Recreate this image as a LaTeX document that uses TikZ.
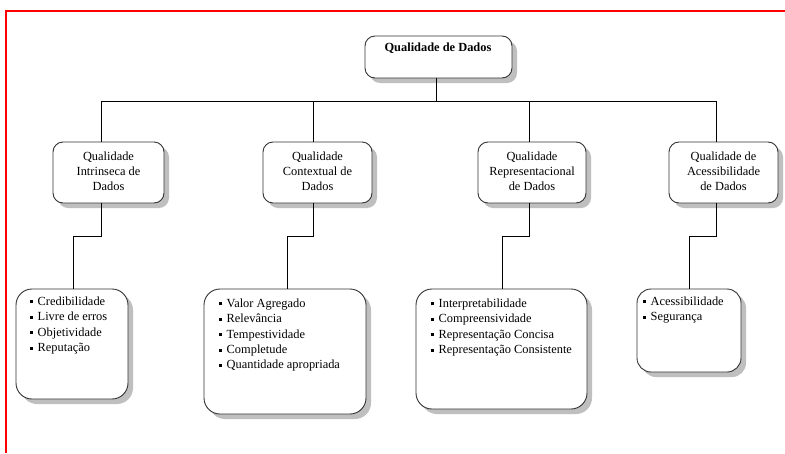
\documentclass[tikz,border=0pt]{standalone}
\usepackage{fontspec}
\setmainfont{Liberation Serif}
\usetikzlibrary{shadows}
\newcommand\sqbul{\raisebox{2pt}{\rule{3pt}{3pt}}\hspace{4.5pt}}
\tikzset{
  box/.style={draw=black!80, line width=0.9pt, fill=white, rounded corners=#1,
    drop shadow={shadow xshift=5pt, shadow yshift=-5pt, fill=black!25, opacity=1},
    inner sep=0pt, outer sep=0pt},
  box/.default=10pt,
  conn/.style={draw=black, line width=0.8pt},
  ttl/.style={font=\fontsize{12.4}{15.2}\selectfont, align=center, inner sep=0pt},
  lst/.style={font=\fontsize{12.4}{15.4}\selectfont, align=left, inner sep=0pt, anchor=north west},
}
\begin{document}
\begin{tikzpicture}[x=1pt,y=-1pt]
\useasboundingbox (0,0) rectangle (785,453);
\fill[white] (0,0) rectangle (785,453);
% red frame
\draw[red, line width=2pt] (5.5,453) -- (5.5,10.5) -- (785,10.5);

% root
\node[box, minimum width=147pt, minimum height=42pt] (root) at (438.5,57) {};
\node[ttl, font=\fontsize{12.4}{15}\selectfont\bfseries] (roott) at (438,48) {Qualidade de Dados};

% level 1
\node[box, minimum width=111pt, minimum height=61pt] (l1) at (108.5,172.5) {};
\node[box, minimum width=109pt, minimum height=61pt] (l2) at (317.5,172.5) {};
\node[box, minimum width=108pt, minimum height=61pt] (l3) at (532,172.5) {};
\node[box, minimum width=109pt, minimum height=61pt] (l4) at (723.5,172.5) {};
\node[ttl] (l1t) at (108.5,171) {Qualidade\\Intrinseca de\\Dados};
\node[ttl] (l2t) at (317.5,171) {Qualidade\\Contextual de\\Dados};
\node[ttl] (l3t) at (532,171) {Qualidade\\Representacional\\de Dados};
\node[ttl] (l4t) at (723.5,171) {Qualidade de\\Acessibilidade\\de Dados};

% level 2
\node[box=16pt, minimum width=112pt, minimum height=110pt] (b1) at (72,344) {};
\node[box=16pt, minimum width=162pt, minimum height=125pt] (b2) at (285,351.5) {};
\node[box=16pt, minimum width=171pt, minimum height=120pt] (b3) at (501.5,349) {};
\node[box=14pt, minimum width=104pt, minimum height=83pt] (b4) at (689,330.5) {};

\node[lst] (b1t) at (30,296.5) {\sqbul Credibilidade\\\sqbul Livre de erros\\\sqbul Objetividade\\\sqbul Reputação};
\node[lst] (b2t) at (219,298.5) {\sqbul Valor Agregado\\\sqbul Relevância\\\sqbul Tempestividade\\\sqbul Completude\\\sqbul Quantidade apropriada};
\node[lst] (b3t) at (431,298.5) {\sqbul Interpretabilidade\\\sqbul Compreensividade\\\sqbul Representação Concisa\\\sqbul Representação Consistente};
\node[lst] (b4t) at (643,296.5) {\sqbul Acessibilidade\\\sqbul Segurança};

% bus coordinates
\coordinate (r0) at (436,101);
\coordinate (c1) at (101,101);
\coordinate (c2) at (313,101);
\coordinate (c3) at (529,101);
\coordinate (c4) at (716,101);
\coordinate (d1) at (101,236);
\coordinate (d2) at (313,236);
\coordinate (d3) at (529,236);
\coordinate (d4) at (716,236);
\coordinate (e1) at (73,236);
\coordinate (e2) at (287,236);
\coordinate (e3) at (502,236);
\coordinate (e4) at (689,236);

\draw[conn] (root.south -| r0) -- (r0);
\draw[conn] (c1) -- (c4);
\draw[conn] (c1) -- (l1.north -| c1);
\draw[conn] (c2) -- (l2.north -| c2);
\draw[conn] (c3) -- (l3.north -| c3);
\draw[conn] (c4) -- (l4.north -| c4);
\draw[conn] (l1.south -| d1) -- (d1) -- (e1) -- (b1.north -| e1);
\draw[conn] (l2.south -| d2) -- (d2) -- (e2) -- (b2.north -| e2);
\draw[conn] (l3.south -| d3) -- (d3) -- (e3) -- (b3.north -| e3);
\draw[conn] (l4.south -| d4) -- (d4) -- (e4) -- (b4.north -| e4);
\end{tikzpicture}
\end{document}
